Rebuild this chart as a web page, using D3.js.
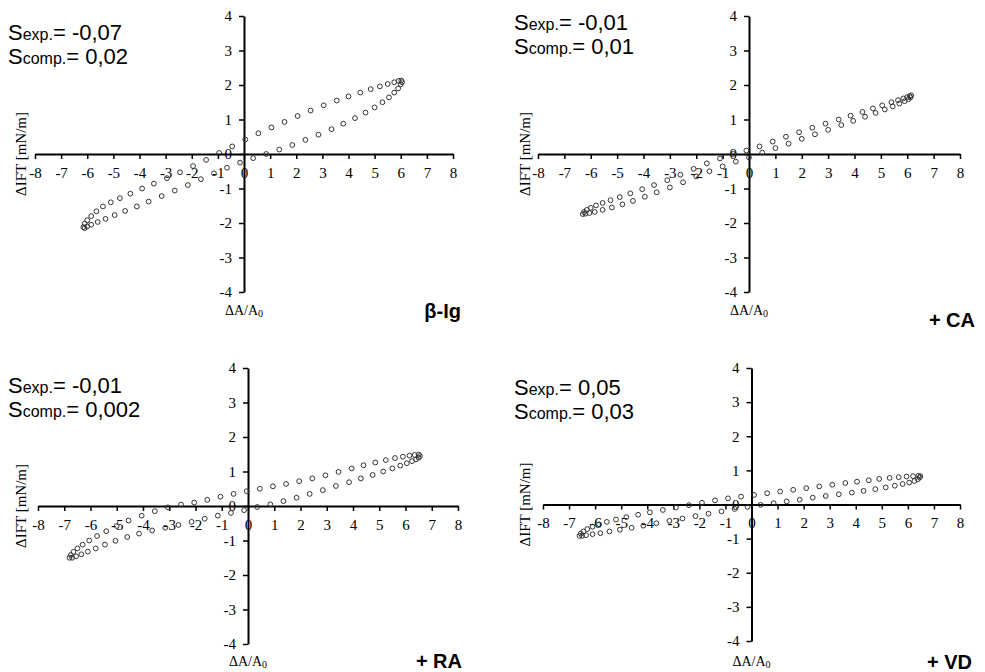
<!DOCTYPE html>
<html lang="en">
  <head>
    <meta charset="UTF-8" />
    <title>Lissajous plots ΔIFT vs ΔA/A0</title>
    <script src="https://d3js.org/d3.v7.min.js"></script>
    <style>
      body {
        margin: 0;
        background: #fff;
      }
      .tick text {
        font-family: "Liberation Serif", "Times New Roman", serif;
        font-size: 15px;
        fill: #000;
      }
      .serif {
        font-family: "Liberation Serif", "Times New Roman", serif;
      }
      .sans {
        font-family: "Liberation Sans", Arial, sans-serif;
      }
    </style>
  </head>
  <body>
    <div id="chart"></div>
    <script>
      const xTicks = d3.range(-8, 9);
      const yTicks = d3.range(-4, 5);

      // β-lg loop, upper branch left -> right, lower branch right -> left
      const blgUpper = [
        [-6.15, -2.12], [-6.1, -2.02], [-6.0, -1.92], [-5.85, -1.8], [-5.65, -1.66],
        [-5.4, -1.52], [-5.1, -1.4], [-4.75, -1.28], [-4.35, -1.15], [-3.9, -1.0],
        [-3.45, -0.86], [-2.95, -0.7], [-2.45, -0.53], [-1.95, -0.35], [-1.45, -0.17],
        [-0.95, 0.03], [-0.45, 0.22], [0.05, 0.42], [0.55, 0.6], [1.05, 0.77],
        [1.55, 0.93], [2.05, 1.1], [2.55, 1.26], [3.05, 1.41], [3.55, 1.55],
        [4.0, 1.67], [4.45, 1.78], [4.85, 1.88], [5.2, 1.96], [5.5, 2.03],
        [5.75, 2.08], [5.92, 2.12], [6.02, 2.13]
      ];
      const blgLower = [
        [6.05, 2.08], [6.0, 2.02], [5.9, 1.9], [5.75, 1.78], [5.55, 1.64],
        [5.3, 1.5], [5.0, 1.35], [4.65, 1.2], [4.25, 1.04], [3.8, 0.88],
        [3.35, 0.72], [2.85, 0.56], [2.35, 0.41], [1.85, 0.26], [1.35, 0.13],
        [0.85, 0.0], [0.35, -0.12], [-0.15, -0.25], [-0.65, -0.4], [-1.15, -0.56],
        [-1.65, -0.73], [-2.15, -0.9], [-2.65, -1.06], [-3.15, -1.22], [-3.65, -1.38],
        [-4.1, -1.52], [-4.55, -1.65], [-4.95, -1.77], [-5.3, -1.88], [-5.6, -1.97],
        [-5.85, -2.05], [-6.0, -2.1], [-6.1, -2.15]
      ];

      // + CA loop
      const caUpper = [
        [-6.3, -1.74], [-6.25, -1.68], [-6.15, -1.62], [-6.0, -1.56], [-5.8, -1.49],
        [-5.55, -1.42], [-5.25, -1.34], [-4.9, -1.25], [-4.5, -1.14], [-4.05, -1.02],
        [-3.6, -0.9], [-3.1, -0.76], [-2.6, -0.6], [-2.1, -0.43], [-1.6, -0.27],
        [-1.1, -0.13], [-0.6, 0.0], [-0.1, 0.1], [0.4, 0.22], [0.9, 0.36],
        [1.4, 0.5], [1.9, 0.63], [2.4, 0.76], [2.9, 0.88], [3.4, 1.0],
        [3.85, 1.11], [4.3, 1.22], [4.7, 1.32], [5.05, 1.41], [5.4, 1.5],
        [5.65, 1.56], [5.85, 1.61], [6.0, 1.65], [6.1, 1.68], [6.15, 1.7]
      ];
      const caLower = [
        [6.12, 1.64], [6.05, 1.59], [5.9, 1.53], [5.7, 1.46], [5.45, 1.38],
        [5.15, 1.29], [4.8, 1.19], [4.4, 1.08], [3.95, 0.96], [3.5, 0.84],
        [3.0, 0.7], [2.5, 0.57], [2.0, 0.44], [1.5, 0.3], [1.0, 0.17],
        [0.5, 0.04], [0.0, -0.1], [-0.5, -0.22], [-1.0, -0.36], [-1.5, -0.5],
        [-2.0, -0.65], [-2.5, -0.82], [-3.0, -0.97], [-3.5, -1.11], [-3.95, -1.24],
        [-4.4, -1.36], [-4.8, -1.46], [-5.2, -1.55], [-5.55, -1.62], [-5.85, -1.68],
        [-6.05, -1.71], [-6.2, -1.73]
      ];

      // + RA loop
      const raUpper = [
        [-6.8, -1.5], [-6.75, -1.42], [-6.65, -1.33], [-6.5, -1.23], [-6.3, -1.12],
        [-6.05, -1.0], [-5.75, -0.87], [-5.4, -0.73], [-5.0, -0.58], [-4.55, -0.42],
        [-4.05, -0.28], [-3.55, -0.15], [-3.05, -0.04], [-2.55, 0.04], [-2.05, 0.1],
        [-1.55, 0.18], [-1.05, 0.27], [-0.55, 0.35], [-0.05, 0.43], [0.45, 0.5],
        [0.95, 0.57], [1.45, 0.64], [1.95, 0.72], [2.45, 0.8], [2.95, 0.89],
        [3.45, 0.99], [3.95, 1.09], [4.4, 1.18], [4.85, 1.26], [5.25, 1.33],
        [5.6, 1.39], [5.9, 1.43], [6.15, 1.46], [6.35, 1.48], [6.5, 1.49]
      ];
      const raLower = [
        [6.55, 1.45], [6.5, 1.4], [6.4, 1.35], [6.25, 1.3], [6.05, 1.24],
        [5.8, 1.17], [5.5, 1.09], [5.15, 1.0], [4.75, 0.9], [4.3, 0.8],
        [3.85, 0.69], [3.35, 0.58], [2.85, 0.46], [2.35, 0.35], [1.85, 0.24],
        [1.35, 0.14], [0.85, 0.05], [0.35, -0.03], [-0.15, -0.12], [-0.65, -0.2],
        [-1.15, -0.28], [-1.65, -0.37], [-2.15, -0.46], [-2.65, -0.55], [-3.15, -0.63],
        [-3.65, -0.71], [-4.15, -0.8], [-4.6, -0.9], [-5.05, -1.01], [-5.45, -1.12],
        [-5.8, -1.23], [-6.1, -1.32], [-6.35, -1.4], [-6.55, -1.46], [-6.7, -1.5]
      ];

      // + VD loop
      const vdUpper = [
        [-6.6, -0.92], [-6.55, -0.85], [-6.45, -0.79], [-6.3, -0.72], [-6.1, -0.65],
        [-5.85, -0.58], [-5.55, -0.51], [-5.2, -0.44], [-4.8, -0.37], [-4.35, -0.3],
        [-3.9, -0.23], [-3.4, -0.16], [-2.9, -0.09], [-2.4, -0.02], [-1.9, 0.05],
        [-1.4, 0.12], [-0.9, 0.18], [-0.4, 0.23], [0.1, 0.28], [0.6, 0.33],
        [1.1, 0.38], [1.6, 0.43], [2.1, 0.48], [2.6, 0.53], [3.1, 0.58],
        [3.6, 0.63], [4.05, 0.67], [4.5, 0.71], [4.9, 0.75], [5.3, 0.78],
        [5.65, 0.8], [5.95, 0.82], [6.2, 0.83], [6.4, 0.84], [6.48, 0.83]
      ];
      const vdLower = [
        [6.45, 0.79], [6.38, 0.74], [6.25, 0.69], [6.05, 0.64], [5.8, 0.6],
        [5.5, 0.55], [5.15, 0.5], [4.75, 0.45], [4.3, 0.4], [3.85, 0.35],
        [3.35, 0.3], [2.85, 0.25], [2.35, 0.2], [1.85, 0.14], [1.35, 0.09],
        [0.85, 0.04], [0.35, -0.01], [-0.15, -0.07], [-0.65, -0.13], [-1.15, -0.2],
        [-1.65, -0.27], [-2.15, -0.34], [-2.65, -0.41], [-3.15, -0.48], [-3.65, -0.55],
        [-4.15, -0.62], [-4.6, -0.68], [-5.05, -0.74], [-5.45, -0.79], [-5.8, -0.84],
        [-6.1, -0.87], [-6.35, -0.9], [-6.5, -0.92]
      ];

      const panelNames = ["β-Ig", "+ CA", "+ RA", "+ VD"];
      const sExp = ["-0,07", "-0,01", "-0,01", "0,05"];
      const sComp = ["0,02", "0,01", "0,002", "0,03"];
      const loops = [
        blgUpper.concat(blgLower),
        caUpper.concat(caLower),
        raUpper.concat(raLower),
        vdUpper.concat(vdLower)
      ];

      // layout of each panel (pixels)
      const layout = [
        {x0: 35, x1: 453, yTop: 16, yBot: 292, ylab: 21, xlabY: 315, txtX: 8, txtY: 40, nameX: 461, nameY: 318},
        {x0: 538, x1: 960, yTop: 16, yBot: 292, ylab: 525, xlabY: 315, txtX: 514, txtY: 30, nameX: 975, nameY: 327},
        {x0: 38, x1: 458, yTop: 368, yBot: 644, ylab: 21, xlabY: 666, txtX: 8, txtY: 393, nameX: 462, nameY: 668},
        {x0: 543, x1: 960, yTop: 368, yBot: 641, ylab: 525, xlabY: 666, txtX: 514, txtY: 395, nameX: 972, nameY: 669}
      ];

      const svg = d3
        .select("#chart")
        .append("svg")
        .attr("width", 985)
        .attr("height", 672);

      loops.forEach((pts, i) => {
        const L = layout[i];
        const x = d3.scaleLinear().domain([-8, 8]).range([L.x0, L.x1]);
        const y = d3.scaleLinear().domain([-4, 4]).range([L.yBot, L.yTop]);
        const g = svg.append("g");

        // x axis through y = 0
        const gx = g
          .append("g")
          .attr("transform", `translate(0,${y(0)})`)
          .call(d3.axisBottom(x).tickValues(xTicks).tickSize(5).tickSizeOuter(0).tickPadding(8).tickFormat(d3.format("d")));
        // y axis through x = 0
        const gy = g
          .append("g")
          .attr("transform", `translate(${x(0)},0)`)
          .call(d3.axisLeft(y).tickValues(yTicks).tickSize(5).tickSizeOuter(0).tickPadding(7).tickFormat(d3.format("d")));
        [gx, gy].forEach((a) => {
          a.select(".domain").attr("stroke", "#000").attr("stroke-width", 2);
          a.selectAll(".tick line").attr("stroke", "#000").attr("stroke-width", 1.5);
          a.selectAll(".tick text").text((d) => String(d));
        });

        // data markers
        g.append("g")
          .selectAll("circle")
          .data(pts)
          .join("circle")
          .attr("cx", (d) => x(d[0]))
          .attr("cy", (d) => y(d[1]))
          .attr("r", 2.4)
          .attr("fill", "none")
          .attr("stroke", "#333")
          .attr("stroke-width", 1);

        // axis titles
        g.append("text")
          .attr("class", "serif")
          .attr("transform", `translate(${L.ylab},${y(0)}) rotate(-90)`)
          .attr("text-anchor", "middle")
          .attr("dy", "0.35em")
          .attr("font-size", "15px")
          .text("ΔIFT [mN/m]");

        const xt = g
          .append("text")
          .attr("class", "serif")
          .attr("x", x(0))
          .attr("y", L.xlabY)
          .attr("text-anchor", "middle")
          .attr("font-size", "14px");
        xt.append("tspan").text("ΔA/A");
        xt.append("tspan").attr("font-size", "10px").attr("dy", "2").text("0");

        // S annotations
        const t1 = g
          .append("text")
          .attr("class", "sans")
          .attr("x", L.txtX)
          .attr("y", L.txtY)
          .attr("font-size", "22px");
        t1.append("tspan").text("S");
        t1.append("tspan").attr("font-size", "16px").text("exp.");
        t1.append("tspan").text("= " + sExp[i]);

        const t2 = g
          .append("text")
          .attr("class", "sans")
          .attr("x", L.txtX)
          .attr("y", L.txtY + 24)
          .attr("font-size", "22px");
        t2.append("tspan").text("S");
        t2.append("tspan").attr("font-size", "16px").text("comp.");
        t2.append("tspan").text("= " + sComp[i]);

        // panel name
        g.append("text")
          .attr("class", "sans")
          .attr("x", L.nameX)
          .attr("y", L.nameY)
          .attr("text-anchor", "end")
          .attr("font-size", "20px")
          .attr("font-weight", "bold")
          .text(panelNames[i]);
      });
    </script>
  </body>
</html>
